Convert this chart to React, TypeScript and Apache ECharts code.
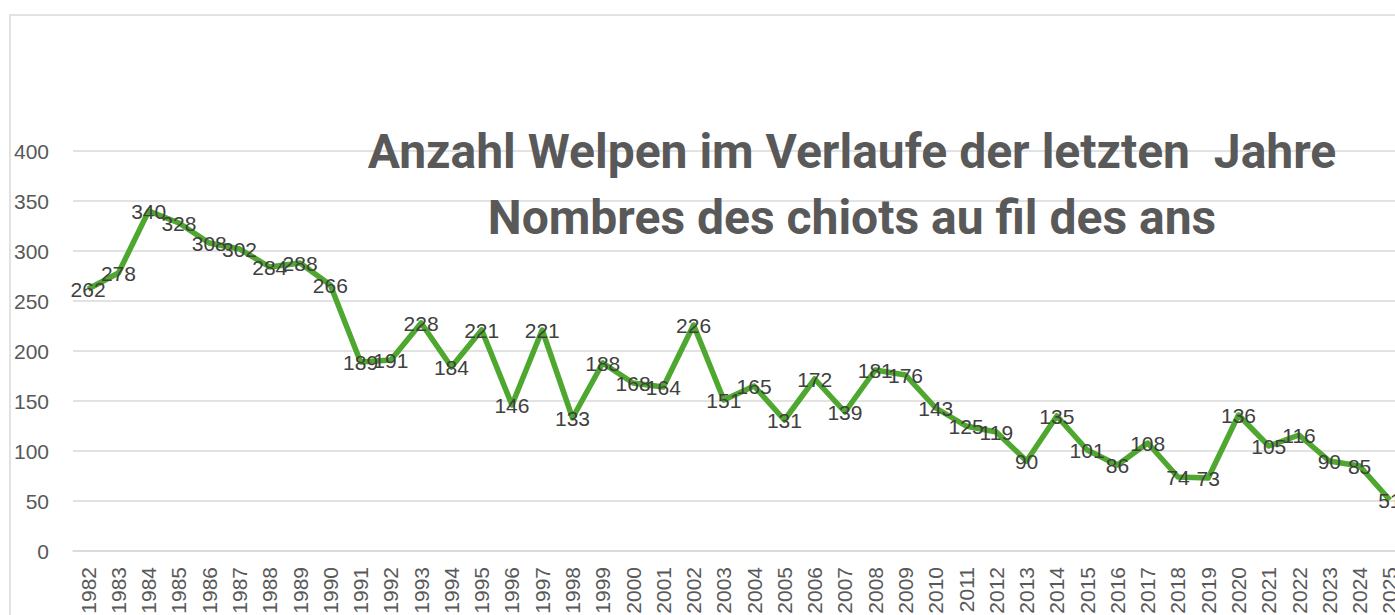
import React, { useEffect, useRef } from "react";
import * as echarts from "echarts";

const years: string[] = [
  "1982", "1983", "1984", "1985", "1986", "1987", "1988", "1989", "1990", "1991",
  "1992", "1993", "1994", "1995", "1996", "1997", "1998", "1999", "2000", "2001",
  "2002", "2003", "2004", "2005", "2006", "2007", "2008", "2009", "2010", "2011",
  "2012", "2013", "2014", "2015", "2016", "2017", "2018", "2019", "2020", "2021",
  "2022", "2023", "2024", "2025",
];
const puppies: number[] = [
  262, 278, 340, 328, 308, 302, 284, 288, 266, 189,
  191, 228, 184, 221, 146, 221, 133, 188, 168, 164,
  226, 151, 165, 131, 172, 139, 181, 176, 143, 125,
  119, 90, 135, 101, 86, 108, 74, 73, 136, 105,
  116, 90, 85, 51,
];
const titleLine1 = "Anzahl Welpen im Verlaufe der letzten  Jahre";
const titleLine2 = "Nombres des chiots au fil des ans";

export default function App() {
  const ref = useRef<HTMLDivElement>(null);
  useEffect(() => {
    if (!ref.current) return;
    const chart = echarts.init(ref.current, null, { renderer: "svg" });
    chart.setOption({
      animation: false,
      backgroundColor: "#ffffff",
      grid: { left: 73, right: 15, top: 151, bottom: 109, containLabel: false },
      xAxis: {
        type: "category",
        data: years,
        boundaryGap: true,
        axisLine: { show: true, lineStyle: { color: "#d9d9d9", width: 1.5 } },
        axisTick: { show: false },
        axisLabel: {
          rotate: 90,
          margin: 16,
          interval: 0,
          color: "#595959",
          fontSize: 21,
          fontFamily: "Liberation Sans, Arial, sans-serif",
        },
      },
      yAxis: {
        type: "value",
        min: 0,
        max: 400,
        interval: 50,
        axisLine: { show: false },
        axisTick: { show: false },
        splitLine: { lineStyle: { color: "#d9d9d9", width: 1.5 } },
        axisLabel: {
          margin: 24,
          color: "#595959",
          fontSize: 21,
          fontFamily: "Liberation Sans, Arial, sans-serif",
        },
      },
      series: [
        {
          type: "line",
          data: puppies,
          symbol: "circle",
          symbolSize: 1,
          showSymbol: true,
          itemStyle: { color: "rgba(0,0,0,0)" },
          lineStyle: { color: "#4ea72e", width: 5.5, join: "round" },
          label: {
            show: true,
            position: "inside",
            color: "#404040",
            fontSize: 21,
            fontFamily: "Liberation Sans, Arial, sans-serif",
          },
        },
      ],
      graphic: [
        {
          type: "rect",
          shape: { x: 10, y: 15, width: 1500, height: 800 },
          style: { fill: "none", stroke: "#d9d9d9", lineWidth: 1.5 },
          z: -1,
          silent: true,
        },
        {
          type: "text",
          x: 852,
          y: 151,
          style: {
            text: titleLine1,
            fill: "#595959",
            font: "bold 48px Roboto, sans-serif",
            textAlign: "center",
            textVerticalAlign: "middle",
          },
          z: 100,
        },
        {
          type: "text",
          x: 852,
          y: 217,
          style: {
            text: titleLine2,
            fill: "#595959",
            font: "bold 48px Roboto, sans-serif",
            textAlign: "center",
            textVerticalAlign: "middle",
          },
          z: 100,
        },
      ],
    });
    return () => chart.dispose();
  }, []);
  return (
    <div
      style={{
        position: "fixed",
        left: 0,
        top: 0,
        width: 1395,
        height: 615,
        overflow: "hidden",
        background: "#fff",
      }}
    >
      <div ref={ref} style={{ width: 1420, height: 660 }} />
    </div>
  );
}
